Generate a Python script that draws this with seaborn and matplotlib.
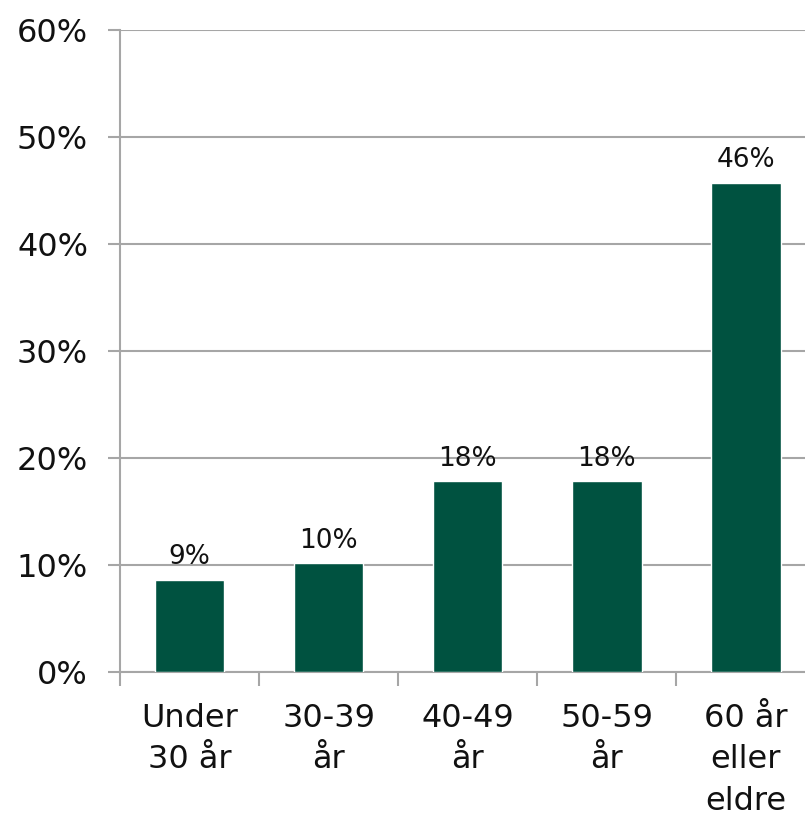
import numpy   as np
import pandas  as pd
import seaborn as sns
from matplotlib        import pyplot as plt
from matplotlib.ticker import FuncFormatter, MultipleLocator

sns.set_theme(style="white")
plt.rcParams['font.family'] = ['DejaVu Sans']

categories = ['Under\n30 år', '30-39\når', '40-49\når', '50-59\når', '60 år\neller\neldre']
shares     = [8.6, 10.15, 17.8, 17.8, 45.7]
labels     = ['9%', '10%', '18%', '18%', '46%']

df = pd.DataFrame({'kat': categories, 'andel': shares})

fig = plt.figure(figsize=(8.05, 8.27), dpi=100)
# the plot area runs a bit past the right edge of the image, as in the original
ax  = fig.add_axes([0.149, 0.1874, 0.864, 0.7766])

sns.barplot(data=df, x='kat', y='andel', color='#005240', width=0.5,
            saturation=1, ax=ax, zorder=3)

ax.set_ylim(0, 60)
ax.set_xlim(-0.5, len(categories) - 0.5)
ax.yaxis.set_major_locator(MultipleLocator(10))
ax.yaxis.set_major_formatter(FuncFormatter(lambda v, p: f'{v:.0f}%'))
ax.grid(axis='y', color='#a6a6a6', linewidth=1.5, zorder=0)
ax.set_xlabel('')
ax.set_ylabel('')

for s in ['top', 'right']:
    ax.spines[s].set_visible(False)
for s in ['left', 'bottom']:
    ax.spines[s].set_color('#a6a6a6')
    ax.spines[s].set_linewidth(1.5)

# x ticks between the categories, pointing down
ax.set_xticks(np.arange(len(categories)))
ax.set_xticklabels(categories, fontsize=23, linespacing=1.45, va='top', color='#111111')
ax.set_xticks(np.arange(len(categories) + 1) - 0.5, minor=True)
ax.tick_params(axis='x', which='major', bottom=True, length=0, pad=22)
ax.tick_params(axis='x', which='minor', bottom=True, length=10, width=1.5,
               color='#a6a6a6', direction='out')
ax.tick_params(axis='y', which='major', left=True, length=9, width=1.5, color='#a6a6a6',
               direction='out', labelsize=23, labelcolor='#111111', pad=14)
ax.tick_params(axis='y', which='minor', length=0)

for i, (v, t) in enumerate(zip(shares, labels)):
    ax.annotate(t, (i, v), xytext=(0, 7), textcoords='offset points',
                ha='center', va='bottom', fontsize=19, color='#111111')

fig.savefig('out.png', dpi=100)
